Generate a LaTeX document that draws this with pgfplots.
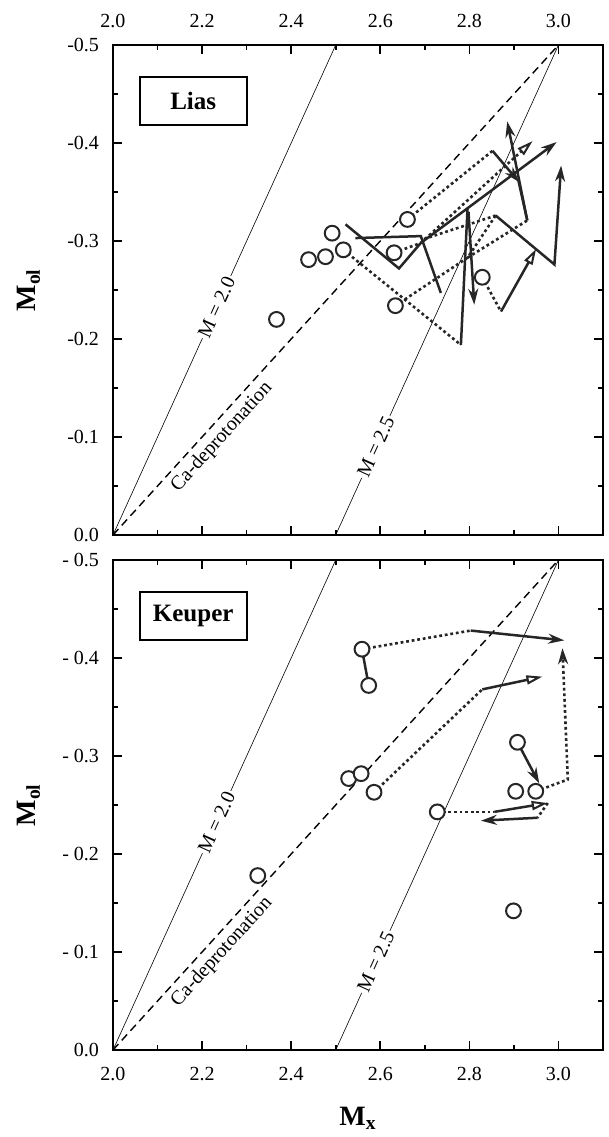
\documentclass[border=0pt]{standalone}
\usepackage{fontspec}
\setmainfont{Liberation Serif}
\usepackage{pgfplots}
\pgfplotsset{compat=1.18}
\usetikzlibrary{arrows.meta}

\tikzset{
  fa/.style={-{Stealth[length=8pt,width=5pt]}},
  oa/.style={-{Triangle[open,length=8pt,width=4.5pt,line width=1pt,fill=white]}},
  lbl/.style={sloped, font=\fontsize{10}{12}\selectfont},
  panelname/.style={draw, line width=1pt, minimum width=53.5pt, minimum height=24pt, inner sep=0pt, font=\fontsize{12.5}{14}\selectfont\bfseries},
}
\pgfplotsset{
  panel/.style={
    scale only axis, width=245pt, height=245pt,
    xmin=2.0, xmax=3.1, ymin=-0.5, ymax=0, y dir=reverse,
    axis line style={line width=1pt},
    tick align=inside, major tick length=4.5pt, minor tick length=2.5pt,
    every tick/.style={line width=0.8pt, black},
    xtick={2.0,2.2,2.4,2.6,2.8,3.0}, minor xtick={2.1,2.3,2.5,2.7,2.9},
    xticklabels={2.0,2.2,2.4,2.6,2.8,3.0},
    ytick={-0.5,-0.4,-0.3,-0.2,-0.1,0}, minor ytick={-0.45,-0.35,-0.25,-0.15,-0.05},
    ticklabel style={font=\fontsize{10}{12}\selectfont},
    yticklabel style={xshift=-3.5pt},
    /pgf/number format/assume math mode=true,
    label style={font=\fontsize{14}{16}\selectfont\bfseries},
    ylabel={M\textsubscript{ol}},
    ylabel style={at={(axis description cs:-0.172,0.5)}, anchor=center},
    clip=false,
  },
  refline/.style={line width=0.3pt, black, mark=none},
  caline/.style={line width=0.7pt, black, mark=none, dash pattern=on 4pt off 2.5pt},
  sol/.style={line width=1.25pt, black!85, mark=none},
  dot/.style={line width=1.3pt, black!85, mark=none, dash pattern=on 1.4pt off 1.4pt},
  circ/.style={only marks, mark=*, mark size=3.7pt, mark options={fill=white, draw=black!85, line width=1pt}},
}

\begin{document}
\begin{tikzpicture}
% ---- Lias ----
\begin{axis}[panel, name=top, at={(0,0)}, anchor=north west,
    xticklabel pos=upper, xticklabel style={yshift=5pt},
    yticklabels={-0.5,-0.4,-0.3,-0.2,-0.1,0.0}]
  \addplot[refline] coordinates {(2.0,0) (2.5,-0.5)}
    node[lbl, pos=0.465, fill=white, inner sep=1pt] {M = 2.0};
  \addplot[refline] coordinates {(2.5,0) (3.0,-0.5)}
    node[lbl, pos=0.18, fill=white, inner sep=1pt] {M = 2.5};
  \addplot[caline] coordinates {(2.0,0) (3.0,-0.5)}
    node[lbl, pos=0.22, below, inner sep=2.5pt] {Ca-deprotonation};
  % dotted paths
  \addplot[dot] coordinates {(2.517,-0.291) (2.781,-0.194)};
  \addplot[dot] coordinates {(2.634,-0.234) (2.796,-0.283) (2.859,-0.326)};
  \addplot[dot] coordinates {(2.661,-0.322) (2.852,-0.392)};
  \addplot[dot, oa] coordinates {(2.691,-0.298) (2.942,-0.402)};
  \addplot[dot] coordinates {(2.796,-0.283) (2.930,-0.321)};
  \addplot[dot] coordinates {(2.698,-0.302) (2.859,-0.326)};
  \addplot[dot] coordinates {(2.829,-0.263) (2.871,-0.228)};
  \addplot[dot] coordinates {(2.631,-0.288) (2.691,-0.298)};
  % solid paths
  \addplot[sol, fa] coordinates {(2.522,-0.317) (2.642,-0.272) (2.691,-0.298) (2.996,-0.401)};
  \addplot[sol] coordinates {(2.544,-0.303) (2.691,-0.305) (2.736,-0.247)};
  \addplot[sol] coordinates {(2.781,-0.194) (2.796,-0.334)};
  \addplot[sol, fa] coordinates {(2.798,-0.330) (2.811,-0.235)};
  \addplot[sol, fa] coordinates {(2.852,-0.392) (2.912,-0.360)};
  \addplot[sol] coordinates {(2.910,-0.362) (2.930,-0.321)};
  \addplot[sol, fa] coordinates {(2.930,-0.321) (2.885,-0.422)};
  \addplot[sol, fa] coordinates {(2.859,-0.326) (2.991,-0.276) (3.006,-0.377)};
  \addplot[sol, oa] coordinates {(2.871,-0.228) (2.950,-0.292)};
  % samples
  \addplot[circ] coordinates {
    (2.367,-0.220) (2.439,-0.281) (2.477,-0.284) (2.492,-0.308) (2.517,-0.291)
    (2.631,-0.288) (2.661,-0.322) (2.634,-0.234) (2.829,-0.263)};
  \node[panelname] at (axis cs:2.18,-0.443) {Lias};
\end{axis}
% ---- Keuper ----
\begin{axis}[panel, name=bot, at={(0,-257.5pt)}, anchor=north west,
    xticklabel style={yshift=-5pt},
    yticklabels={- 0.5,- 0.4,- 0.3,- 0.2,- 0.1,0.0},
    xlabel={M\textsubscript{x}},
    xlabel style={at={(axis description cs:0.5,-0.139)}, anchor=center}]
  \addplot[refline] coordinates {(2.0,0) (2.5,-0.5)}
    node[lbl, pos=0.465, fill=white, inner sep=1pt] {M = 2.0};
  \addplot[refline] coordinates {(2.5,0) (3.0,-0.5)}
    node[lbl, pos=0.18, fill=white, inner sep=1pt] {M = 2.5};
  \addplot[caline] coordinates {(2.0,0) (3.0,-0.5)}
    node[lbl, pos=0.22, below, inner sep=2.5pt] {Ca-deprotonation};
  % dotted paths
  \addplot[dot] coordinates {(2.559,-0.409) (2.803,-0.428)};
  \addplot[dot] coordinates {(2.586,-0.263) (2.829,-0.368)};
  \addplot[dot, fa] coordinates {(2.949,-0.264) (3.021,-0.276) (3.009,-0.410)};
  \addplot[dot] coordinates {(2.728,-0.243) (2.856,-0.243)};
  \addplot[dot] coordinates {(2.976,-0.252) (2.953,-0.237)};
  % solid paths
  \addplot[sol] coordinates {(2.559,-0.409) (2.574,-0.372)};
  \addplot[sol, fa] coordinates {(2.803,-0.428) (3.013,-0.418)};
  \addplot[sol, oa] coordinates {(2.829,-0.368) (2.964,-0.381)};
  \addplot[sol, fa] coordinates {(2.908,-0.314) (2.957,-0.272)};
  \addplot[sol, oa] coordinates {(2.856,-0.243) (2.976,-0.252)};
  \addplot[sol, fa] coordinates {(2.953,-0.237) (2.826,-0.234)};
  % samples
  \addplot[circ] coordinates {
    (2.559,-0.409) (2.574,-0.372) (2.529,-0.277) (2.557,-0.282) (2.586,-0.263)
    (2.908,-0.314) (2.904,-0.264) (2.949,-0.264) (2.728,-0.243) (2.899,-0.142)
    (2.325,-0.178)};
  \node[panelname] at (axis cs:2.18,-0.443) {Keuper};
\end{axis}
\pgfresetboundingbox
\path (-56.5pt,22.5pt) rectangle (248pt,-546pt);
\end{tikzpicture}
\end{document}
